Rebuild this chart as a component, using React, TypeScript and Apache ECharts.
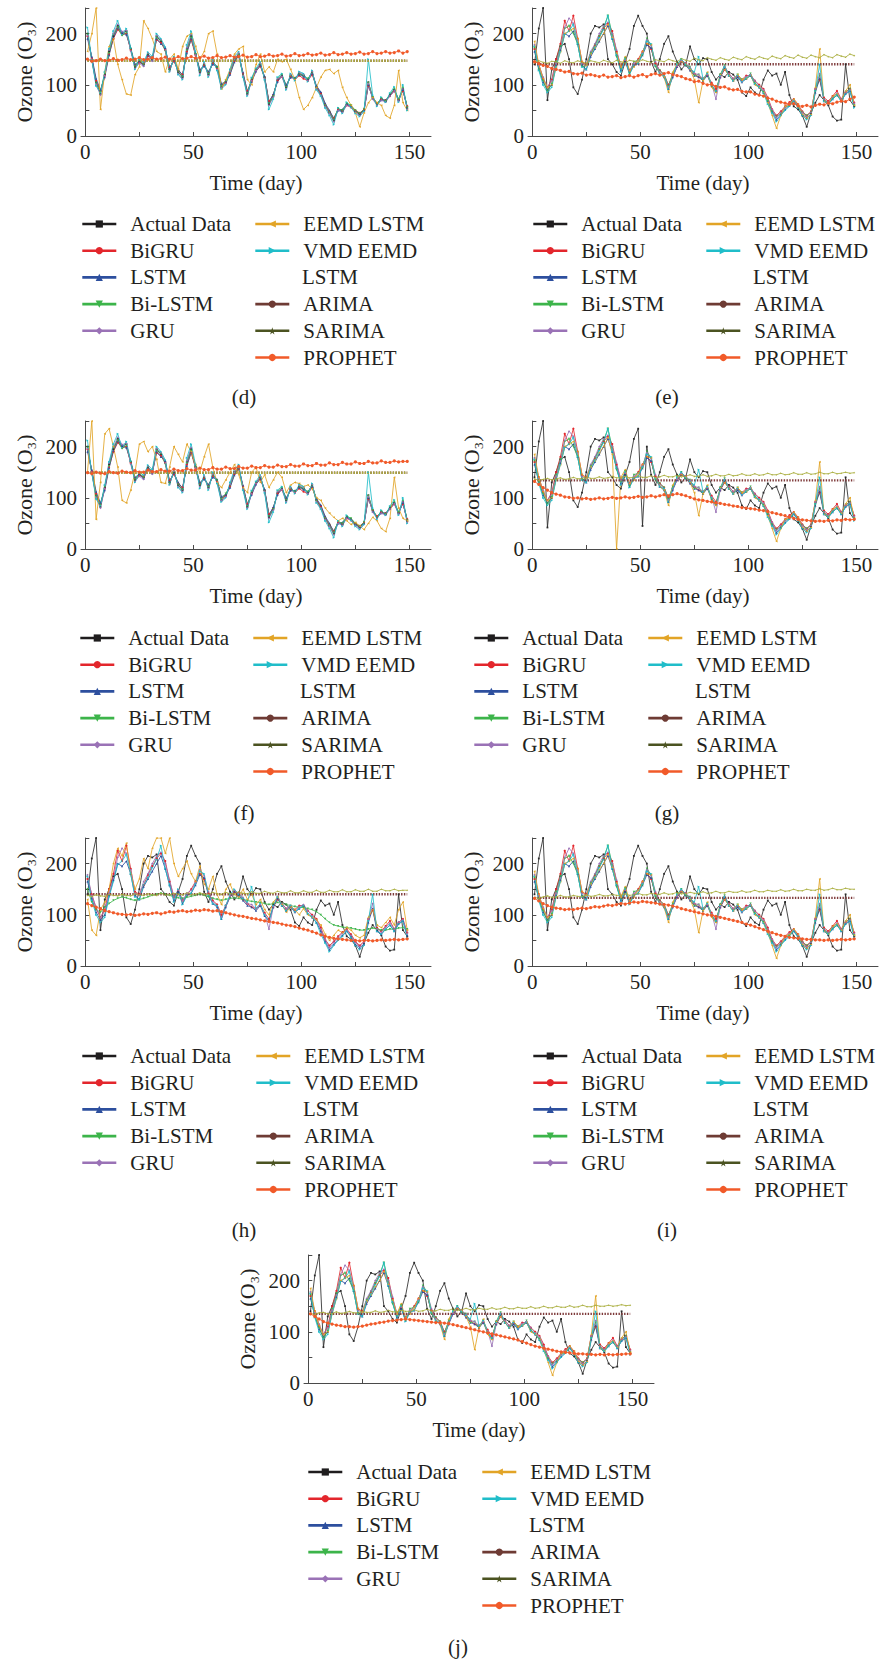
import React, { useEffect, useRef } from 'react';
import * as echarts from 'echarts';

const FONT = "'Liberation Serif', 'Times New Roman', 'DejaVu Serif', serif";
const INK = '#231f20';

// Forecast window: values are sampled every second day.
const DAYS = Array.from({ length: 75 }, (_, i) => 1 + 2 * i);

const X_TICKS = [0, 25, 50, 75, 100, 125, 150];
const X_LABELS = [0, 50, 100, 150];

const MODELS = ['Actual Data', 'BiGRU', 'LSTM', 'Bi-LSTM', 'GRU', 'EEMD LSTM', 'VMD EEMD LSTM', 'ARIMA', 'SARIMA', 'PROPHET'];
const LINE_COLORS = ['#2b2b2b', '#e3262c', '#2d4f9e', '#3cb44a', '#9a72b6', '#e2a426', '#20bdc9', '#7e3a3a', '#a9ad3c', '#f15a29'];
const LEGEND_COLORS = ['#1f1d1e', '#e3262c', '#2d4f9e', '#3cb44a', '#9a72b6', '#e2a426', '#20bdc9', '#6e3b34', '#4b5321', '#f15a29'];
const STAR = 'path://M50,0 L61,35 L98,35 L68,57 L79,91 L50,70 L21,91 L32,57 L2,35 L39,35 Z';
const SYMBOLS = ['rect', 'circle', 'triangle', 'triangle', 'diamond', 'triangle', 'triangle', 'circle', STAR, 'circle'];
const ROTATES = [0, 0, 0, 180, 0, 90, -90, 0, 0, 0];
const MARK_SIZES = [1.8, 2.2, 2.2, 2.2, 2.2, 2.2, 2.2, 2.2, 2.2, 3.2];

// ---- station A (panels d, f) ----
const A_ACTUAL = [200,150,105,82,120,165,195,215,200,205,170,135,145,140,160,150,195,185,170,130,150,125,115,170,195,160,125,140,120,145,135,95,105,125,150,160,120,82,110,130,140,115,62,78,110,118,95,118,112,122,118,110,125,95,82,60,45,30,52,48,62,58,48,42,50,105,75,62,72,68,80,90,70,92,55];
const A_BIGRU = [195,152,108,88,118,160,190,208,198,200,168,138,143,142,156,152,188,182,168,134,146,128,120,165,188,158,128,138,124,142,132,100,104,122,146,156,122,88,108,128,136,114,68,80,108,116,98,116,110,118,112,108,120,96,84,62,48,35,52,50,60,56,50,45,52,98,76,64,72,70,78,88,72,88,58];
const A_LSTM = [190,155,112,90,115,158,192,210,202,198,172,140,146,138,158,148,190,180,172,132,148,130,118,162,190,162,130,136,126,140,136,102,106,120,144,158,124,86,106,126,138,116,66,82,106,118,100,114,114,120,116,110,122,98,86,64,50,34,50,52,62,58,48,44,50,100,74,62,70,70,80,90,70,90,56];
const A_BILSTM = [198,148,104,86,122,162,198,212,196,202,170,136,148,140,160,150,192,186,166,128,150,126,116,168,192,160,126,140,122,144,134,98,108,124,148,158,118,84,112,130,140,112,64,78,112,120,96,118,112,122,118,112,124,94,80,60,46,32,54,50,64,60,50,44,52,104,76,62,74,68,82,92,72,94,56];
const A_GRU = [196,150,100,80,118,168,200,218,204,206,166,132,142,136,162,146,196,188,168,126,152,122,112,172,198,158,122,142,118,146,130,94,102,126,150,162,118,80,108,128,142,112,60,76,112,116,92,120,110,124,120,108,126,92,80,58,44,28,50,46,60,56,46,40,48,102,72,60,70,66,78,88,68,92,52];
const A_VMD = [212,148,98,84,125,170,205,225,198,210,172,130,150,144,164,155,200,190,174,125,155,120,110,178,205,165,118,145,115,150,128,92,100,130,155,165,115,78,114,132,145,110,52,72,115,122,90,122,108,126,122,106,128,90,78,55,40,22,55,44,66,56,44,38,48,150,80,58,76,66,84,96,66,100,50];
const D_EEMD = [165,200,250,52,125,175,190,140,110,82,80,120,135,225,210,190,165,160,125,150,160,130,175,195,200,175,150,165,200,205,160,92,110,130,160,170,175,110,100,140,160,125,135,125,150,145,150,130,110,75,52,60,75,95,115,128,130,122,128,95,75,60,45,18,45,65,75,65,60,40,35,60,128,65,50];
const F_EEMD = [150,250,58,130,225,235,200,160,95,90,115,150,205,210,190,200,175,130,128,160,200,185,170,205,190,165,150,180,205,160,130,120,135,150,165,145,120,110,150,160,130,145,120,135,150,140,110,125,130,128,122,125,118,100,95,80,70,62,55,60,55,48,52,45,38,50,62,55,40,34,60,140,80,60,55];
const D_PROPHET = [150,146,147,150,147,148,151,148,149,152,149,150,153,149,150,153,150,151,154,150,151,155,151,152,155,152,153,156,152,153,157,153,154,157,154,155,158,154,155,159,155,156,159,156,157,160,156,157,161,157,158,161,158,159,162,158,159,163,159,160,163,160,161,164,160,161,165,161,162,165,162,163,166,162,165];
const F_PROPHET = [149,147,150,148,147,151,149,148,152,150,149,153,150,150,154,151,151,155,152,152,156,153,153,157,154,154,158,155,155,159,156,156,160,157,157,161,158,158,162,159,159,163,160,160,164,161,161,165,162,162,166,163,163,167,164,164,168,165,165,169,166,166,170,167,167,171,168,168,172,169,169,172,170,171,171];

// ---- station B (panels e, g, h, i, j) ----
const B_ACTUAL = [140,210,250,70,130,150,175,180,150,95,82,110,150,200,215,212,218,150,140,125,118,145,170,215,235,215,200,145,125,150,180,195,165,145,130,140,175,150,140,152,150,125,110,120,115,125,120,110,85,78,95,85,80,110,128,118,122,100,125,80,58,52,40,18,45,65,80,70,60,38,30,32,140,70,58];
const G_ACTUAL = [140,210,250,42,130,150,175,180,150,95,82,110,150,200,215,212,218,150,140,125,118,145,170,215,235,45,200,145,125,150,180,195,165,145,130,140,175,150,140,152,150,125,110,120,115,125,120,110,85,78,95,85,80,110,128,118,122,100,125,80,58,52,40,18,45,65,80,70,60,38,30,32,140,70,58];
const B_BIGRU = [170,140,112,95,110,150,180,225,205,235,190,145,140,158,178,195,210,220,205,165,135,148,128,138,150,165,180,170,142,128,120,100,118,135,145,142,130,122,115,112,118,104,92,115,130,122,112,116,110,118,118,108,100,92,75,52,40,48,58,66,72,62,48,40,48,92,110,75,68,78,88,72,85,92,65];
const B_LSTM = [165,132,105,90,100,138,168,200,195,205,180,138,130,155,170,185,200,215,190,158,128,145,122,138,142,158,178,172,138,122,115,92,115,135,145,138,128,118,115,108,118,98,88,115,132,118,108,115,105,112,118,102,95,85,68,48,32,42,52,60,68,58,42,36,42,85,112,68,62,72,80,68,82,88,60];
const B_BILSTM = [172,130,108,88,102,145,175,210,215,200,180,135,138,162,178,195,212,235,198,155,132,152,122,145,148,158,190,178,135,128,120,98,122,140,150,138,135,118,120,108,122,98,85,120,138,118,108,120,110,112,122,104,96,86,68,48,38,44,56,60,70,58,46,40,46,88,118,72,64,74,80,70,86,92,60];
const B_GRU = [178,138,115,95,108,142,172,212,230,220,188,142,138,165,180,200,215,222,200,168,135,148,128,142,148,162,188,176,145,126,118,96,118,136,148,142,134,122,120,112,120,102,72,116,136,122,112,118,106,116,120,108,98,90,72,52,36,46,56,64,70,60,46,38,46,92,122,72,66,76,84,72,86,90,64];
const B_EEMD = [185,140,112,95,100,135,165,200,205,210,190,145,138,160,172,188,200,218,192,162,135,155,128,135,148,165,180,178,138,122,115,85,125,140,145,140,130,110,65,108,125,95,85,120,130,118,108,120,110,112,118,100,95,85,65,40,15,40,58,62,72,62,42,35,42,95,170,68,62,78,82,70,88,100,60];
const B_VMD = [175,128,100,85,95,135,165,198,205,218,180,135,130,158,172,192,208,235,190,158,125,150,120,138,142,160,185,180,138,122,118,92,118,140,150,140,132,125,155,112,122,100,88,118,135,118,108,118,106,112,118,102,96,84,62,45,28,40,50,58,68,55,40,32,40,88,140,68,62,72,80,68,82,88,55];
const G_EEMD = [185,140,112,95,100,135,165,200,205,210,190,145,138,160,172,188,200,218,185,0,140,155,128,135,148,165,180,178,138,122,115,85,125,140,145,140,130,110,65,108,125,95,85,120,130,118,108,120,110,112,118,100,95,85,65,40,15,40,58,62,72,62,42,35,42,95,170,68,62,78,82,70,88,100,60];
const H_BILSTM = [150,125,110,105,115,122,128,132,135,133,130,128,130,132,135,138,140,142,140,138,135,133,132,134,136,138,140,138,135,132,130,128,130,132,133,132,130,128,126,125,124,122,120,122,124,122,120,118,116,115,114,112,110,106,100,92,85,80,78,76,75,74,72,70,70,72,74,72,70,70,72,72,74,75,72];
const H_EEMD = [130,70,60,110,125,150,200,230,215,240,180,150,170,210,190,230,250,250,220,250,200,175,190,205,180,165,195,160,150,175,140,120,150,160,140,135,150,130,140,120,130,110,100,125,135,120,105,115,110,100,112,100,95,90,80,62,50,60,70,65,75,70,60,55,60,95,110,80,75,85,95,80,110,125,70];

const E_PROPHET = [145,142,138,136,132,130,128,125,126,122,121,123,119,120,118,116,119,115,116,118,114,116,118,115,118,120,116,120,122,119,122,124,120,118,116,112,110,106,107,103,100,101,97,95,96,92,90,91,87,86,86,82,80,78,74,72,68,66,64,62,63,59,58,60,57,60,62,61,64,63,66,68,67,72,76];
const G_PROPHET = [132,126,120,115,110,107,105,102,101,99,100,98,99,97,98,100,98,99,101,99,100,102,100,101,103,101,102,104,102,104,106,104,106,108,106,104,101,98,96,95,93,92,90,89,87,86,84,83,81,80,79,78,76,75,73,71,69,67,65,62,60,58,57,56,55,54,55,54,56,55,57,56,58,57,58];
const H_PROPHET = [122,118,115,112,108,106,104,102,101,100,101,99,100,102,101,103,104,102,104,106,105,107,108,106,107,109,108,110,109,107,108,106,104,102,100,98,97,95,93,92,90,88,87,85,84,82,80,79,77,74,72,70,67,64,61,58,56,54,53,52,51,50,50,49,50,50,49,50,51,50,51,52,51,52,53];
const I_PROPHET = [132,127,122,118,115,113,112,110,111,110,112,113,112,114,116,115,117,119,118,120,122,121,123,125,124,126,125,124,123,121,120,119,117,115,112,110,108,106,104,102,100,99,97,95,93,91,89,87,85,82,80,77,74,71,68,65,62,60,58,56,55,54,53,52,52,51,51,50,51,50,51,52,51,52,53];
const J_PROPHET = [135,130,125,120,117,115,113,112,110,110,109,110,111,113,115,116,118,119,121,122,123,124,125,124,123,122,121,120,119,118,118,117,116,114,112,110,108,106,104,102,100,98,96,94,92,90,88,86,84,81,78,75,72,70,68,66,64,62,61,60,59,58,57,57,56,56,55,56,55,56,55,56,56,57,57];

const E_SARIMA = [143,147,144,142,146,145,142,147,144,143,147,144,142,147,145,143,148,145,143,148,145,143,148,146,144,149,146,144,149,147,145,150,147,145,151,148,146,152,149,147,153,150,148,153,150,148,154,151,149,155,152,150,155,152,150,156,153,151,157,154,152,158,154,152,158,155,153,159,155,153,159,156,154,160,157];
const G_SARIMA = [137,134,136,138,135,137,139,136,137,140,137,138,141,138,138,141,138,139,142,139,139,142,139,140,143,140,140,143,140,141,144,141,141,144,141,142,145,142,142,145,142,143,146,143,143,146,143,144,147,144,144,147,144,145,148,145,145,148,145,146,149,146,146,149,146,147,150,147,147,150,147,148,150,148,149];
const H_SARIMA = [138,136,139,137,136,140,138,137,140,138,137,141,139,138,141,139,138,142,139,139,142,140,139,143,140,140,143,140,140,144,141,140,144,141,141,145,142,141,145,142,142,146,143,142,146,143,143,147,143,143,147,144,144,148,144,144,148,145,145,149,145,145,149,146,146,150,146,146,150,147,147,150,147,148,148];
const I_SARIMA = [134,132,135,137,134,135,138,135,135,138,136,136,139,136,137,140,137,137,140,138,138,141,138,139,142,139,139,142,140,140,143,140,141,144,141,141,144,142,142,145,142,143,146,143,143,146,144,144,147,144,145,148,145,145,148,146,146,149,146,147,150,147,147,150,148,148,151,148,149,152,149,149,152,150,150];
const J_SARIMA = [136,134,137,138,135,136,139,136,137,140,137,137,140,138,138,141,138,139,142,139,139,142,140,140,143,140,141,144,141,141,144,142,142,145,142,143,146,143,143,146,144,144,147,144,145,148,145,145,148,146,146,149,146,147,150,147,147,150,148,148,151,148,149,152,149,149,152,150,150,152,150,151,153,151,152];

// Constant forecasts (ARIMA everywhere, SARIMA at station A), per panel d..j
const ARIMA_LEVEL = [147, 140, 149, 134, 140, 133, 135];
const SARIMA_A_LEVEL = [147, 149];

type Line = number[] | number;
type Panel = {
  tag: string; axisX: number; axisY: number;
  legendX: [number, number]; legendY: number;
  labelX: number; labelY: number;
  lines: Line[];
};

const PANELS: Panel[] = [
  { tag: '(d)', axisX: 81, axisY: 136, legendX: [81, 254], legendY: 224, labelX: 244, labelY: 397,
    lines: [A_ACTUAL, A_BIGRU, A_LSTM, A_BILSTM, A_GRU, D_EEMD, A_VMD, ARIMA_LEVEL[0], SARIMA_A_LEVEL[0], D_PROPHET] },
  { tag: '(e)', axisX: 528, axisY: 136, legendX: [532, 705], legendY: 224, labelX: 667, labelY: 397,
    lines: [B_ACTUAL, B_BIGRU, B_LSTM, B_BILSTM, B_GRU, B_EEMD, B_VMD, ARIMA_LEVEL[1], E_SARIMA, E_PROPHET] },
  { tag: '(f)', axisX: 81, axisY: 549, legendX: [79, 252], legendY: 638, labelX: 244, labelY: 813,
    lines: [A_ACTUAL, A_BIGRU, A_LSTM, A_BILSTM, A_GRU, F_EEMD, A_VMD, ARIMA_LEVEL[2], SARIMA_A_LEVEL[1], F_PROPHET] },
  { tag: '(g)', axisX: 528, axisY: 549, legendX: [473, 647], legendY: 638, labelX: 667, labelY: 813,
    lines: [G_ACTUAL, B_BIGRU, B_LSTM, B_BILSTM, B_GRU, G_EEMD, B_VMD, ARIMA_LEVEL[3], G_SARIMA, G_PROPHET] },
  { tag: '(h)', axisX: 81, axisY: 966, legendX: [81, 255], legendY: 1056, labelX: 244, labelY: 1230,
    lines: [B_ACTUAL, B_BIGRU, B_LSTM, H_BILSTM, B_GRU, H_EEMD, B_VMD, ARIMA_LEVEL[4], H_SARIMA, H_PROPHET] },
  { tag: '(i)', axisX: 528, axisY: 966, legendX: [532, 705], legendY: 1056, labelX: 667, labelY: 1230,
    lines: [B_ACTUAL, B_BIGRU, B_LSTM, B_BILSTM, B_GRU, B_EEMD, B_VMD, ARIMA_LEVEL[5], I_SARIMA, I_PROPHET] },
  { tag: '(j)', axisX: 304, axisY: 1383, legendX: [307, 481], legendY: 1472, labelX: 458, labelY: 1647,
    lines: [B_ACTUAL, B_BIGRU, B_LSTM, B_BILSTM, B_GRU, B_EEMD, B_VMD, ARIMA_LEVEL[6], J_SARIMA, J_PROPHET] },
];

const PLOT_W = 350;
const PLOT_H = 128;
const ROW_H = 26.7;
const FONT_SIZE = 21;

const COL1 = MODELS.slice(0, 5);
const COL2A = MODELS.slice(5, 7);
const COL2B = MODELS.slice(7);

function legendBlock(names: string[], left: number, firstRowY: number) {
  return {
    orient: 'vertical',
    left,
    top: firstRowY - ROW_H / 2,
    padding: 0,
    itemGap: 0,
    itemWidth: 34,
    itemHeight: 9,
    selectedMode: false,
    data: names.map((n) => {
      const i = MODELS.indexOf(n);
      return {
        name: n,
        itemStyle: { color: LEGEND_COLORS[i], borderWidth: 0 },
        lineStyle: { color: LEGEND_COLORS[i], width: 2.6, type: 'solid' },
      };
    }),
    formatter: (n: string) => (n === 'VMD EEMD LSTM' ? 'VMD EEMD' : n),
    textStyle: { fontFamily: FONT, fontSize: FONT_SIZE, color: INK, lineHeight: ROW_H, padding: [0, 0, 0, 9] },
  };
}

function buildOption() {
  const grid: any[] = [];
  const xAxis: any[] = [];
  const yAxis: any[] = [];
  const series: any[] = [];
  const legend: any[] = [];
  const graphic: any[] = [];
  const axisText = { fontFamily: FONT, fontSize: FONT_SIZE, color: INK };

  PANELS.forEach((p, pi) => {
    grid.push({ left: p.axisX, top: p.axisY - PLOT_H, width: PLOT_W, height: PLOT_H });
    xAxis.push({
      type: 'value', gridIndex: pi, min: -2, max: 160,
      axisLine: { lineStyle: { color: '#4a4a4a', width: 1 } },
      axisTick: { inside: true, length: 4, customValues: X_TICKS, lineStyle: { color: '#4a4a4a' } },
      axisLabel: { ...axisText, customValues: X_LABELS, margin: 5 },
      splitLine: { show: false },
      name: 'Time (day)', nameLocation: 'middle', nameGap: 36,
      nameTextStyle: { ...axisText, fontSize: 21 },
    });
    yAxis.push({
      type: 'value', gridIndex: pi, min: 0, max: 250, interval: 50,
      axisLine: { show: true, lineStyle: { color: '#4a4a4a', width: 1 } },
      axisTick: { show: true, inside: true, length: 4, lineStyle: { color: '#4a4a4a' } },
      axisLabel: { ...axisText, margin: 4, padding: [8, 0, 0, 0], formatter: (v: number) => (v % 100 === 0 ? String(v) : '') },
      splitLine: { show: false },
      name: 'Ozone (O₃)', nameLocation: 'middle', nameRotate: 90, nameGap: 46,
      nameTextStyle: { ...axisText, fontSize: 22 },
    });

    p.lines.forEach((vals, si) => {
      const flat = typeof vals === 'number';
      const data = flat
        ? [[DAYS[0], vals], [DAYS[DAYS.length - 1], vals]]
        : DAYS.map((d, k) => [d, (vals as number[])[k]]);
      series.push({
        type: 'line',
        name: MODELS[si],
        xAxisIndex: pi,
        yAxisIndex: pi,
        data,
        symbol: SYMBOLS[si],
        symbolRotate: ROTATES[si],
        symbolSize: MARK_SIZES[si],
        showSymbol: !flat,
        lineStyle: { color: LINE_COLORS[si], width: flat ? 2.4 : 0.85, type: flat ? [1.4, 1.4] : 'solid' },
        itemStyle: { color: LINE_COLORS[si] },
        emphasis: { disabled: true },
        silent: true,
      });
    });

    legend.push(legendBlock(COL1, p.legendX[0], p.legendY));
    legend.push(legendBlock(COL2A, p.legendX[1], p.legendY));
    legend.push(legendBlock(COL2B, p.legendX[1], p.legendY + 3 * ROW_H));

    graphic.push({
      type: 'text', x: p.legendX[1] + 48, y: p.legendY + 2 * ROW_H,
      style: { text: 'LSTM', fontFamily: FONT, fontSize: FONT_SIZE, fill: INK, verticalAlign: 'middle' },
    });
    graphic.push({
      type: 'text', x: p.labelX, y: p.labelY,
      style: { text: p.tag, fontFamily: FONT, fontSize: FONT_SIZE, fill: INK, align: 'center', verticalAlign: 'middle' },
    });
  });

  return {
    animation: false,
    backgroundColor: '#ffffff',
    grid, xAxis, yAxis, series, legend, graphic,
  };
}

export default function App() {
  const ref = useRef<HTMLDivElement>(null);
  useEffect(() => {
    if (!ref.current) return;
    const chart = echarts.init(ref.current, undefined, { renderer: 'svg' });
    chart.setOption(buildOption() as any);
    return () => chart.dispose();
  }, []);
  return (
    <div
      ref={ref}
      style={{ position: 'absolute', left: 0, top: 0, width: 879, height: 1659, background: '#ffffff' }}
    />
  );
}
